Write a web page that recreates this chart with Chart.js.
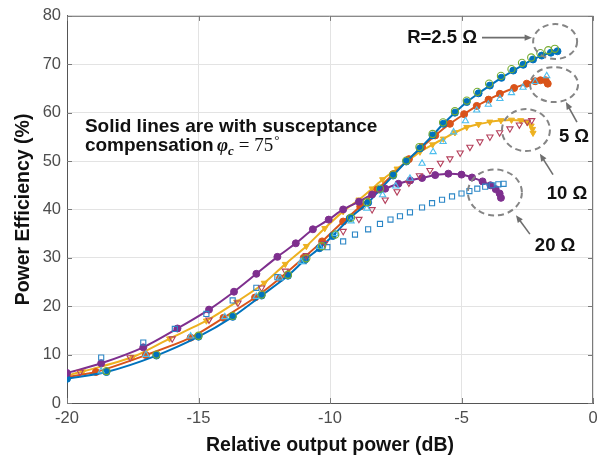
<!DOCTYPE html>
<html>
<head>
<meta charset="utf-8">
<script src="https://cdn.jsdelivr.net/npm/chart.js@4.4.0/dist/chart.umd.min.js"></script>
<style>
  html, body { margin: 0; padding: 0; background: #fff; }
  #wrap { width: 613px; height: 462px; }
</style>
</head>
<body>
<div id="wrap"><canvas id="effChart" width="613" height="462"></canvas></div>
<script>
// axis ticks
const xTicks = [-20, -15, -10, -5, 0];
const yTicks = [0, 10, 20, 30, 40, 50, 60, 70, 80];

// solid lines: with susceptance compensation
const comp25X = [-20, -18.5, -16.6, -15.0, -13.7, -12.6, -11.6, -10.95, -10.4, -9.9, -9.25, -8.55, -8.1, -7.6, -7.1, -6.58, -6.1, -5.69, -5.25, -4.8, -4.35, -3.92, -3.48, -3.03, -2.65, -2.28, -1.95, -1.6, -1.35];
const comp25Y = [5.0, 6.4, 9.8, 13.7, 17.8, 22.2, 26.3, 29.6, 32.0, 34.5, 38.2, 41.4, 44.1, 47.0, 49.9, 52.6, 55.3, 57.7, 60.0, 62.2, 64.0, 65.6, 67.2, 68.7, 69.9, 71.0, 71.8, 72.4, 72.7];

const comp5X = [-20, -18.9, -17.0, -15.3, -14.05, -12.85, -11.9, -11.0, -10.3, -9.5, -8.85, -8.2, -7.6, -7.0, -6.5, -6.0, -5.44, -4.9, -4.42, -3.97, -3.54, -3.0, -2.52, -2.2, -2.0, -1.8, -1.72];
const comp5Y = [5.4, 6.4, 9.9, 13.5, 17.6, 21.8, 25.8, 30.0, 33.4, 37.5, 40.6, 44.1, 47.3, 50.4, 52.9, 55.3, 57.7, 59.7, 61.4, 62.7, 63.9, 65.1, 66.0, 66.5, 66.7, 66.7, 66.0];

const comp10X = [-20, -19.4, -17.5, -16.1, -14.7, -13.55, -12.5, -11.7, -10.9, -10.2, -9.5, -8.9, -8.4, -8.0, -7.45, -7.0, -6.58, -6.1, -5.69, -5.25, -4.8, -4.35, -3.92, -3.5, -3.1, -2.75, -2.5, -2.35, -2.3, -2.28];
const comp10Y = [5.7, 6.5, 9.5, 13.3, 17.0, 20.9, 24.8, 28.7, 32.4, 36.1, 39.6, 42.0, 44.3, 46.2, 48.4, 50.2, 51.9, 53.4, 54.6, 55.9, 57.0, 57.6, 58.1, 58.4, 58.5, 58.4, 58.0, 57.3, 56.6, 55.8];

const comp20X = [-20, -18.7, -17.1, -15.8, -14.6, -13.65, -12.8, -12.0, -11.3, -10.65, -10.05, -9.5, -8.9, -8.4, -7.9, -7.4, -6.95, -6.5, -6.0, -5.5, -5.0, -4.6, -4.2, -3.9, -3.7, -3.55, -3.5];
const comp20Y = [6.2, 8.2, 11.5, 15.4, 19.3, 23.0, 26.7, 30.2, 33.0, 35.9, 37.9, 40.0, 41.6, 43.1, 44.3, 45.3, 46.0, 46.5, 47.1, 47.4, 47.2, 46.6, 45.8, 45.0, 44.2, 43.3, 42.4];

// open markers: without compensation
const plain25X = [-18.5, -16.6, -15.0, -13.7, -12.6, -11.6, -10.9, -10.3, -9.8, -9.2, -8.6, -8.1, -7.6, -7.1, -6.6, -6.1, -5.7, -5.25, -4.8, -4.4, -3.95, -3.5, -3.1, -2.7, -2.35, -2.0, -1.7, -1.45];
const plain25Y = [6.6, 10.0, 13.9, 18.0, 22.4, 26.5, 29.9, 32.4, 34.8, 38.3, 41.5, 44.3, 47.2, 50.1, 52.9, 55.6, 58.0, 60.3, 62.5, 64.3, 66.0, 67.6, 69.0, 70.3, 71.4, 72.3, 72.9, 73.2];

const plain5X = [-18.7, -17.0, -15.3, -14.0, -12.8, -11.9, -11.1, -10.4, -9.8, -9.2, -8.6, -8.0, -7.5, -6.96, -6.5, -6.08, -5.7, -5.3, -4.85, -4.42, -3.98, -3.54, -3.1, -2.66, -2.2, -1.76];
const plain5Y = [6.6, 10.0, 13.8, 17.8, 22.0, 25.8, 29.2, 32.3, 35.0, 37.6, 40.2, 43.0, 44.8, 46.4, 49.5, 51.9, 54.0, 56.0, 58.3, 60.5, 61.7, 62.9, 64.1, 65.2, 66.4, 67.6];

const plain10X = [-19.5, -17.6, -16.0, -14.6, -13.5, -12.6, -11.7, -10.9, -10.2, -9.5, -8.9, -8.4, -7.9, -7.45, -7.0, -6.6, -6.2, -5.8, -5.44, -5.05, -4.68, -4.3, -3.92, -3.55, -3.16, -2.8, -2.5, -2.33];
const plain10Y = [6.4, 9.4, 13.3, 17.2, 20.7, 23.8, 27.3, 30.5, 33.0, 35.5, 38.0, 40.0, 42.0, 43.7, 45.5, 47.0, 48.1, 49.6, 50.5, 51.7, 52.9, 54.0, 55.0, 55.9, 56.7, 57.5, 58.1, 58.4];

const plain20X = [-18.7, -17.1, -15.9, -14.7, -13.7, -12.8, -12.0, -11.0, -10.1, -9.5, -9.05, -8.55, -8.1, -7.7, -7.34, -6.96, -6.5, -6.12, -5.74, -5.36, -5.0, -4.7, -4.4, -4.1, -3.85, -3.6, -3.4];
const plain20Y = [9.4, 12.5, 15.3, 18.4, 21.2, 23.8, 26.0, 29.3, 32.2, 33.4, 34.8, 35.9, 37.0, 37.9, 38.6, 39.4, 40.4, 41.3, 42.0, 42.7, 43.3, 43.8, 44.3, 44.7, 45.0, 45.2, 45.3];

const pts = (xs, ys) => xs.map((x, i) => ({ x: x, y: ys[i] }));

const SANS = '"Liberation Sans", Arial, Helvetica, sans-serif';
const SERIF = '"Liberation Serif", "Times New Roman", serif';

function solid(xs, ys, color, style, order) {
  return {
    data: pts(xs, ys), borderColor: color, backgroundColor: color,
    borderWidth: 2, tension: 0.25, showLine: true,
    pointStyle: style, pointRadius: 3.5, pointBorderWidth: 1,
    pointRotation: style === 'triangle' ? 180 : 0, order: order
  };
}
function open(xs, ys, color, style, rot) {
  return {
    data: pts(xs, ys), borderColor: color, backgroundColor: 'rgba(255,255,255,0)',
    showLine: false, pointStyle: style, pointRadius: 3.6, pointBorderWidth: 1.1,
    pointRotation: rot || 0, order: 0
  };
}

// annotation rings, labels and arrows (data coordinates)
const rings = [
  { x: -1.44, y: 74.7, rx: 22, ry: 17.5 },
  { x: -1.48, y: 65.8, rx: 24, ry: 17.5 },
  { x: -2.55, y: 56.4, rx: 24, ry: 21 },
  { x: -3.73, y: 43.5, rx: 27, ry: 23 }
];
const labels = [
  { text: 'R=2.5 Ω', x: -4.41, y: 75.5, align: 'right' },
  { text: '5 Ω', x: -0.72, y: 55.0, align: 'center' },
  { text: '10 Ω', x: -0.99, y: 43.3, align: 'center' },
  { text: '20 Ω', x: -1.44, y: 32.4, align: 'center' }
];
const arrows = [
  { x1: -4.22, y1: 75.5, x2: -2.32, y2: 75.5 },
  { x1: -0.61, y1: 58.05, x2: -1.03, y2: 62.2 },
  { x1: -1.52, y1: 47.2, x2: -2.02, y2: 51.5 },
  { x1: -2.40, y1: 34.9, x2: -2.93, y2: 38.8 }
];

const decor = {
  id: 'decor',
  afterDraw(chart) {
    const { ctx, chartArea: a, scales: { x, y } } = chart;
    ctx.save();
    // frame top/right
    ctx.strokeStyle = '#7a7a7a'; ctx.lineWidth = 1;
    ctx.beginPath();
    ctx.moveTo(a.left, a.top + 0.5); ctx.lineTo(a.right - 0.5, a.top + 0.5); ctx.lineTo(a.right - 0.5, a.bottom);
    ctx.stroke();
    // inward tick marks
    ctx.beginPath();
    xTicks.forEach(v => {
      const px = Math.round(x.getPixelForValue(v)) + 0.5;
      ctx.moveTo(px, a.bottom); ctx.lineTo(px, a.bottom - 5);
      ctx.moveTo(px, a.top); ctx.lineTo(px, a.top + 5);
    });
    yTicks.forEach(v => {
      const py = Math.round(y.getPixelForValue(v)) + 0.5;
      ctx.moveTo(a.left, py); ctx.lineTo(a.left + 5, py);
      ctx.moveTo(a.right, py); ctx.lineTo(a.right - 5, py);
    });
    ctx.stroke();

    // dashed rings
    ctx.setLineDash([6, 4]); ctx.strokeStyle = '#858585'; ctx.lineWidth = 2;
    rings.forEach(r => {
      ctx.beginPath();
      ctx.ellipse(x.getPixelForValue(r.x), y.getPixelForValue(r.y), r.rx, r.ry, 0, 0, Math.PI * 2);
      ctx.stroke();
    });
    ctx.setLineDash([]);

    // arrows
    ctx.strokeStyle = '#6e6e6e'; ctx.fillStyle = '#6e6e6e'; ctx.lineWidth = 1.6;
    arrows.forEach(ar => {
      const x1 = x.getPixelForValue(ar.x1), y1 = y.getPixelForValue(ar.y1);
      const x2 = x.getPixelForValue(ar.x2), y2 = y.getPixelForValue(ar.y2);
      const ang = Math.atan2(y2 - y1, x2 - x1);
      ctx.beginPath(); ctx.moveTo(x1, y1);
      ctx.lineTo(x2 - 6 * Math.cos(ang), y2 - 6 * Math.sin(ang)); ctx.stroke();
      ctx.beginPath();
      ctx.moveTo(x2, y2);
      ctx.lineTo(x2 - 8 * Math.cos(ang - 0.4), y2 - 8 * Math.sin(ang - 0.4));
      ctx.lineTo(x2 - 8 * Math.cos(ang + 0.4), y2 - 8 * Math.sin(ang + 0.4));
      ctx.closePath(); ctx.fill();
    });

    // ring labels
    ctx.fillStyle = '#111'; ctx.font = 'bold 18.5px ' + SANS; ctx.textBaseline = 'middle';
    labels.forEach(l => {
      ctx.textAlign = l.align;
      ctx.fillText(l.text, x.getPixelForValue(l.x), y.getPixelForValue(l.y));
    });

    // note text
    ctx.font = 'bold 19px ' + SANS;
    ctx.textAlign = 'left'; ctx.textBaseline = 'alphabetic';
    const tx = x.getPixelForValue(-19.32), ty = y.getPixelForValue(56.0);
    ctx.fillText('Solid lines are with susceptance', tx, ty);
    const t2 = 'compensation ';
    const ty2 = ty + 19;
    ctx.fillText(t2, tx, ty2);
    let cx = tx + ctx.measureText(t2).width - 2;
    ctx.font = 'italic bold 19px ' + SERIF;
    ctx.fillText('φ', cx, ty2); cx += ctx.measureText('φ').width;
    ctx.font = 'italic bold 13px ' + SERIF;
    ctx.fillText('c', cx, ty2 + 4); cx += ctx.measureText('c').width + 5;
    ctx.font = '19px ' + SERIF;
    ctx.fillText('= 75', cx, ty2); cx += ctx.measureText('= 75').width + 1;
    ctx.font = '13px ' + SERIF;
    ctx.fillText('°', cx, ty2 - 7);
    ctx.restore();
  }
};

new Chart(document.getElementById('effChart'), {
  type: 'line',
  data: {
    datasets: [
      open(plain25X, plain25Y, '#77AC30', 'circle'),
      open(plain5X, plain5Y, '#4DBEEE', 'triangle'),
      open(plain10X, plain10Y, '#B5405C', 'triangle', 180),
      open(plain20X, plain20Y, '#2b86c6', 'rect'),
      solid(comp25X, comp25Y, '#0072BD', 'circle', 2),
      solid(comp5X, comp5Y, '#D95319', 'circle', 3),
      solid(comp10X, comp10Y, '#EDB120', 'triangle', 4),
      solid(comp20X, comp20Y, '#7E2F8E', 'circle', 1)
    ]
  },
  options: {
    responsive: false, animation: false, devicePixelRatio: 1,
    layout: { padding: { top: 13, right: 20, left: 0, bottom: 0 } },
    plugins: { legend: { display: false }, tooltip: { enabled: false } },
    scales: {
      x: {
        type: 'linear', min: -20, max: 0,
        afterBuildTicks: s => { s.ticks = xTicks.map(v => ({ value: v })); },
        afterFit: s => { s.height = 59; },
        grid: { color: '#e3e3e3', drawTicks: false },
        border: { color: '#555', width: 1 },
        ticks: { color: '#4d4d4d', font: { family: SANS, size: 16.5 }, padding: 6, maxRotation: 0 },
        title: { display: true, text: 'Relative output power (dB)', color: '#111',
                 font: { family: SANS, size: 19.5, weight: 'bold' }, padding: { top: 0, bottom: 5 } }
      },
      y: {
        type: 'linear', min: 0, max: 80,
        afterBuildTicks: s => { s.ticks = yTicks.map(v => ({ value: v })); },
        afterFit: s => { s.width = 67; },
        grid: { color: '#e3e3e3', drawTicks: false },
        border: { color: '#555', width: 1 },
        ticks: { color: '#4d4d4d', font: { family: SANS, size: 16.5 }, padding: 6 },
        title: { display: true, text: 'Power Efficiency (%)', color: '#111',
                 font: { family: SANS, size: 19.5, weight: 'bold' }, padding: { top: 12, bottom: 0 } }
      }
    }
  },
  plugins: [decor]
});
</script>
</body>
</html>
